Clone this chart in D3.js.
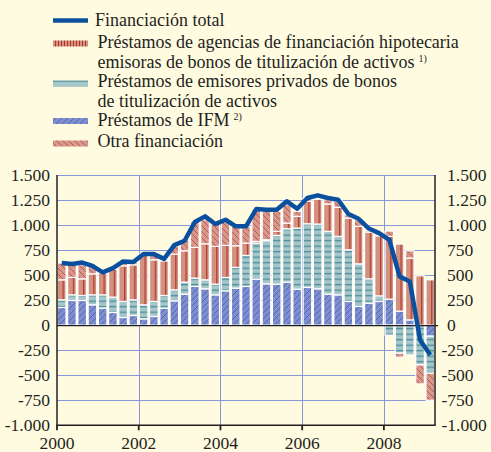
<!DOCTYPE html>
<html>
<head>
<meta charset="utf-8">
<script src="https://cdn.jsdelivr.net/npm/d3@7"></script>
<style>
  html, body { margin: 0; padding: 0; background: #fffbe0; }
  svg { display: block; }
  text { font-family: "Liberation Serif", "DejaVu Serif", serif; fill: #231f20; }
</style>
</head>
<body>
<div id="chart"></div>
<script>
// quarterly data, 2000 Q1 .. 2009 Q1 (EUR billions)
const quarters = d3.range(37).map(i => (2000 + Math.floor(i / 4)) + "Q" + (i % 4 + 1));

const ifm = [177, 247, 247, 203, 170, 127, 77, 97, 63, 87, 170, 243, 310, 387, 363, 303, 343, 370,
  387, 460, 413, 410, 430, 360, 377, 363, 310, 303, 237, 187, 220, 237, 260, 140, 53, 0, -110];
const privados = [76, 56, 50, 100, 133, 153, 160, 156, 140, 150, 127, 110, 120, 83, 90, 107, 134, 207,
  310, 360, 430, 487, 533, 610, 636, 647, 627, 584, 516, 426, 243, 56, -100, -280, -297, -397, -370];
const agencias = [200, 174, 166, 210, 217, 280, 356, 350, 494, 416, 346, 357, 313, 307, 360, 377, 320, 216,
  123, 17, 10, 40, 57, 117, 224, 250, 273, 290, 317, 374, 467, 600, 627, 670, 617, 493, 453];
const otra = [167, 133, 140, 74, 10, 5, 32, 22, 13, 47, 7, 77, 110, 260, 240, 223, 233, 194,
  167, 323, 284, 200, 183, 50, 33, 10, 43, 63, 33, 66, 15, 20, 53, -40, 73, -190, -270];
const total = [620, 612, 625, 592, 528, 570, 637, 630, 712, 710, 662, 800, 843, 1030, 1087, 1010, 1053, 987,
  987, 1160, 1153, 1153, 1237, 1163, 1270, 1297, 1270, 1253, 1110, 1063, 965, 920, 853, 487, 437, -147, -297];

const yTicks = [-1000, -750, -500, -250, 0, 250, 500, 750, 1000, 1250, 1500];
const yearTicks = [2000, 2002, 2004, 2006, 2008];

const fmt = v => d3.format(",")(v).replace(/,/g, ".").replace("−", "-");

const W = 491, H = 452;
const pL = 57, pR = 435, pT = 175, pB = 425.3;

const svg = d3.select("#chart").append("svg")
  .attr("width", W)
  .attr("height", H);

const defs = svg.append("defs");

// hatch patterns for the four components
function pattern(id, w, h, bg, draw) {
  const p = defs.append("pattern")
    .attr("id", id)
    .attr("patternUnits", "userSpaceOnUse")
    .attr("width", w)
    .attr("height", h);
  p.append("rect").attr("width", w).attr("height", h).attr("fill", bg);
  draw(p);
  return p;
}

const x = d3.scaleBand().domain(quarters).range([pL, pR]).paddingInner(0.16).paddingOuter(0.04);
const xYear = d3.scaleLinear().domain([2000, 2009.25]).range([pL, pR]);
const y = d3.scaleLinear().domain([-1000, 1500]).range([pB, pT]);

const step = x.step();

pattern("p-ifm", 6, 6, "#7e8ecd", p => {
  p.append("path").attr("d", "M-1,7 L7,-1 M-1,1 L1,-1 M5,7 L7,5")
    .attr("stroke", "#4a62b8").attr("stroke-width", 0.9);
});
pattern("p-priv", 6, 5.5, "#a5c7ca", p => {
  p.append("rect").attr("y", 3.5).attr("width", 6).attr("height", 1.4).attr("fill", "#4f8f98");
});
pattern("p-agen", step, 10, "#d3917f", p => {
  p.append("rect").attr("x", step / 2 + 0.5).attr("width", 1.2).attr("height", 10).attr("fill", "#b3352c");
}).attr("x", pL);
pattern("p-otra", 6, 6, "#d7988b", p => {
  p.append("path").attr("d", "M-1,-1 L7,7 M5,-1 L7,1 M-1,5 L1,7")
    .attr("stroke", "#b5524a").attr("stroke-width", 0.9);
});
// legend versions
pattern("l-agen", 3, 6, "#d3917f", p => {
  p.append("rect").attr("x", 1).attr("width", 1).attr("height", 6).attr("fill", "#b3352c");
});
pattern("l-priv", 6, 6, "#a5c7ca", p => {
  p.append("rect").attr("y", 2.3).attr("width", 6).attr("height", 1.4).attr("fill", "#4f8f98");
});

const keys = ["ifm", "privados", "agencias", "otra"];
const fills = { ifm: "url(#p-ifm)", privados: "url(#p-priv)", agencias: "url(#p-agen)", otra: "url(#p-otra)" };

const table = quarters.map((q, i) => ({
  q: q, ifm: ifm[i], privados: privados[i], agencias: agencias[i], otra: otra[i]
}));

const series = d3.stack().keys(keys).offset(d3.stackOffsetDiverging)(table);

// grid
const grid = svg.append("g").attr("stroke", "#8796d6").attr("stroke-width", 1);
grid.selectAll("line.h")
  .data(yTicks.filter(d => d !== 0 && d !== -1000))
  .join("line")
  .attr("x1", pL).attr("x2", pR)
  .attr("y1", d => Math.round(y(d)) + 0.5).attr("y2", d => Math.round(y(d)) + 0.5);
grid.selectAll("line.v")
  .data(yearTicks.slice(1))
  .join("line")
  .attr("x1", d => Math.round(xYear(d)) + 0.5).attr("x2", d => Math.round(xYear(d)) + 0.5)
  .attr("y1", pT).attr("y2", pB);

// bars
svg.append("g")
  .selectAll("g")
  .data(series)
  .join("g")
  .attr("fill", d => fills[d.key])
  .selectAll("rect")
  .data(d => d.filter(s => s[1] !== s[0]))
  .join("rect")
  .attr("x", d => x(d.data.q))
  .attr("width", x.bandwidth())
  .attr("y", d => y(Math.max(d[0], d[1])))
  .attr("height", d => Math.abs(y(d[0]) - y(d[1])))
  .attr("stroke", "#ffffff")
  .attr("stroke-width", 1.2);

// axes frame
const ax = svg.append("g").attr("stroke", "#231f20");
ax.append("line").attr("x1", pL).attr("x2", pL).attr("y1", pT).attr("y2", pB).attr("stroke-width", 1.5);
ax.append("line").attr("x1", pR).attr("x2", pR).attr("y1", pT).attr("y2", pB).attr("stroke-width", 1.5);
ax.append("line").attr("x1", pL).attr("x2", pR + 3).attr("y1", y(0) + 0.5).attr("y2", y(0) + 0.5).attr("stroke-width", 1.2);
ax.append("line").attr("x1", pL - 0.75).attr("x2", pR + 0.75).attr("y1", pB).attr("y2", pB).attr("stroke-width", 1.5);
ax.selectAll("line.tick")
  .data(yearTicks)
  .join("line")
  .attr("x1", d => xYear(d)).attr("x2", d => xYear(d))
  .attr("y1", pB).attr("y2", pB + 5)
  .attr("stroke-width", 1.8);

// total line
const line = d3.line()
  .x((d, i) => x(quarters[i]) + x.bandwidth() / 2)
  .y(d => y(d));

svg.append("path")
  .datum(total)
  .attr("fill", "none")
  .attr("stroke", "#0b509e")
  .attr("stroke-width", 4.5)
  .attr("stroke-linejoin", "round")
  .attr("d", line);

// y labels
svg.append("g")
  .selectAll("text")
  .data(yTicks)
  .join("text")
  .attr("x", 50)
  .attr("y", d => y(d) + 5.5)
  .attr("text-anchor", "end")
  .attr("font-size", 17.5)
  .text(fmt);

svg.append("g")
  .selectAll("text")
  .data(yTicks)
  .join("text")
  .attr("x", d => d < 0 ? 441.5 : 447)
  .attr("y", d => y(d) + 5.5)
  .attr("text-anchor", "start")
  .attr("font-size", 17.5)
  .text(fmt);

// x labels
svg.append("g")
  .selectAll("text")
  .data(yearTicks)
  .join("text")
  .attr("x", d => xYear(d))
  .attr("y", 449)
  .attr("text-anchor", "middle")
  .attr("font-size", 17.5)
  .text(d => d);

// legend
const legend = svg.append("g");
legend.append("line")
  .attr("x1", 53).attr("x2", 88).attr("y1", 20.5).attr("y2", 20.5)
  .attr("stroke", "#0b509e").attr("stroke-width", 4.5);
legend.append("text").attr("x", 95).attr("y", 25.5).attr("font-size", 18).text("Financiación total");

const swatches = [
  { y: 43.5, fill: "url(#l-agen)" },
  { y: 83.5, fill: "url(#l-priv)" },
  { y: 121, fill: "url(#p-ifm)" },
  { y: 143.5, fill: "url(#p-otra)" }
];
legend.selectAll("rect")
  .data(swatches)
  .join("rect")
  .attr("x", 53).attr("width", 35)
  .attr("y", d => d.y - 3).attr("height", 6)
  .attr("fill", d => d.fill);

function legendText(yb, txt, sup) {
  const t = legend.append("text").attr("x", 97.5).attr("y", yb).attr("font-size", 18).text(txt);
  if (sup) {
    t.append("tspan").attr("font-size", 10).attr("dx", 4).attr("dy", -6).text(sup);
  }
}
legendText(47.5, "Préstamos de agencias de financiación hipotecaria");
legendText(67.5, "emisoras de bonos de titulización de activos", "1)");
legendText(86.5, "Préstamos de emisores privados de bonos");
legendText(106.5, "de titulización de activos");
legendText(126, "Préstamos de IFM", "2)");
legendText(146.5, "Otra financiación");
</script>
</body>
</html>
